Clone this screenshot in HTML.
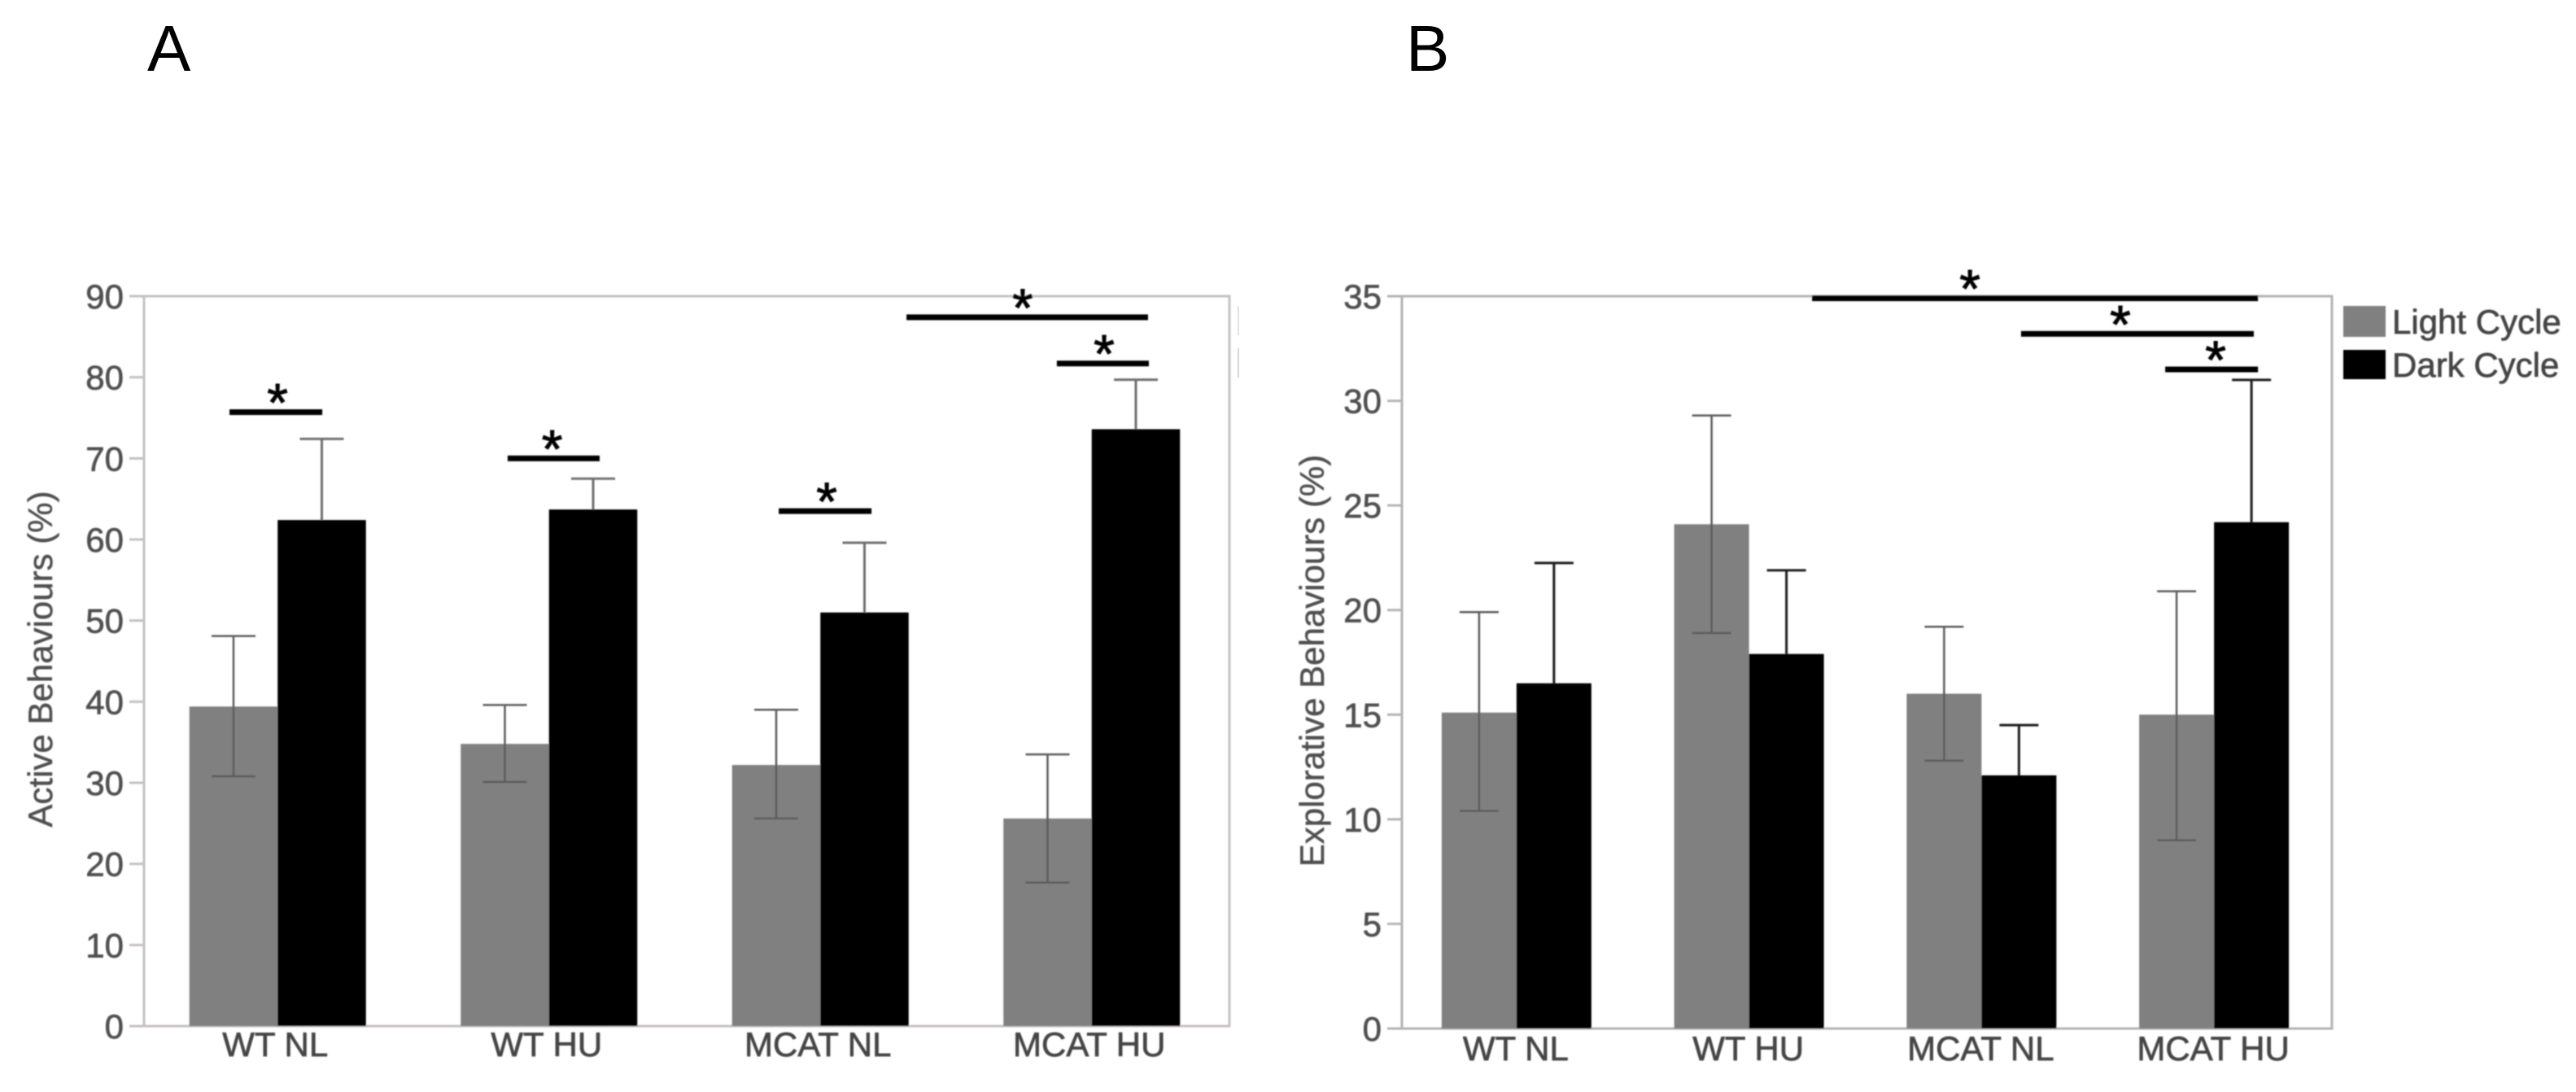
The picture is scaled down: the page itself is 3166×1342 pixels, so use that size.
<!DOCTYPE html>
<html lang="en">
<head>
<meta charset="utf-8">
<title>Active and Explorative Behaviours</title>
<style>
html,body{margin:0;padding:0;background:#fff;}
svg{display:block;font-family:"Liberation Sans",Arial,sans-serif;}
</style>
</head>
<body>
<svg id="figure" width="3166" height="1342" viewBox="0 0 3166 1342" xmlns="http://www.w3.org/2000/svg">
  <defs>
    <filter id="soft" x="-2%" y="-2%" width="104%" height="104%"><feGaussianBlur stdDeviation="0.9"/></filter>
  </defs>
  <rect width="3166" height="1342" fill="#ffffff"/>
  <text x="181" y="87" font-size="80" fill="#000">A</text>
  <text x="1728" y="87" font-size="80" fill="#000">B</text>
  <rect x="1521" y="376" width="2" height="36" fill="#e2e2e2"/>
  <rect x="1521" y="428" width="2" height="36" fill="#d8d8d8"/>
  <g id="panel-a" filter="url(#soft)"></g>
  <g id="panel-b" filter="url(#soft)"></g>
  <g filter="url(#soft)">
    <rect x="2880" y="376" width="52" height="38" fill="#808080"/>
    <text x="2940" y="410" font-size="42" fill="#444" stroke="#444" stroke-width="0.7">Light Cycle</text>
    <rect x="2880" y="430" width="52" height="36" fill="#000000"/>
    <text x="2940" y="463" font-size="42" fill="#444" stroke="#444" stroke-width="0.7">Dark Cycle</text>
  </g>
</svg>
<script>
const categories = ['WT NL', 'WT HU', 'MCAT NL', 'MCAT HU'];

// Panel A: Active Behaviours (%)
const aTicks = [0, 10, 20, 30, 40, 50, 60, 70, 80, 90];
const aLight = [39.4, 34.8, 32.2, 25.6];
const aLightHigh = [48.1, 39.6, 39.0, 33.5];
const aLightLow = [30.8, 30.1, 25.6, 17.7];
const aDark = [62.4, 63.7, 51.0, 73.6];
const aDarkHigh = [72.4, 67.5, 59.6, 79.7];
// Significance annotations: band coordinates (0 to 4) and axis values
const aSigStart = [0.315, 1.340, 2.339, 2.810, 3.364];
const aSigEnd = [0.657, 1.679, 2.681, 3.700, 3.703];
const aSigLevel = [75.7, 70.0, 63.5, 87.4, 81.7];
const aSigStar = [0.492, 1.504, 2.516, 3.238, 3.538];

// Panel B: Explorative Behaviours (%)
const bTicks = [0, 5, 10, 15, 20, 25, 30, 35];
const bLight = [15.1, 24.1, 16.0, 15.0];
const bLightHigh = [19.9, 29.3, 19.2, 20.9];
const bLightLow = [10.4, 18.9, 12.8, 9.0];
const bDark = [16.5, 17.9, 12.1, 24.2];
const bDarkHigh = [22.25, 21.9, 14.5, 31.0];
const bSigStart = [1.764, 2.663, 3.283];
const bSigEnd = [3.682, 3.664, 3.682];
const bSigLevel = [34.9, 33.2, 31.5];
const bSigStar = [2.443, 3.090, 3.500];

const SVGNS = 'http://www.w3.org/2000/svg';

function make(parent, tag, props, text) {
  const el = document.createElementNS(SVGNS, tag);
  for (const k in props) el.setAttribute(k, props[k]);
  if (text !== undefined) el.textContent = text;
  parent.appendChild(el);
  return el;
}

function drawPanel(cfg) {
  const g = document.getElementById(cfg.id);
  const yScale = v => cfg.bottom - (v / cfg.max) * (cfg.bottom - cfg.top);
  const band = (cfg.right - cfg.left) / categories.length;
  const bandX = b => cfg.left + b * band;
  const groupCenter = i => bandX(i + 0.5) + cfg.shift;

  // plot frame
  const frame = make(g, 'rect', {x: cfg.left, y: cfg.top, width: cfg.right - cfg.left, height: cfg.bottom - cfg.top, fill: 'none', stroke: cfg.frameColor, 'stroke-width': 3});
  
  

  // y axis
  cfg.ticks.forEach(t => {
    const y = yScale(t);
    const tick = make(g, 'line', {x1: cfg.left - 18, x2: cfg.left, y1: y, y2: y, stroke: cfg.frameColor, 'stroke-width': 3});
    
    
    const label = make(g, 'text', {x: cfg.left - 25, y: y + 15, 'text-anchor': 'end', 'font-size': 42, fill: '#505050', stroke: '#505050', 'stroke-width': 0.7}, String(t));
    
    
  });

  const midY = cfg.titleY;
  const title = make(g, 'text', {x: cfg.titleX, y: midY, 'text-anchor': 'middle', 'font-size': 42, fill: '#505050', stroke: '#505050', 'stroke-width': 0.5, transform: 'rotate(-90 ' + cfg.titleX + ' ' + midY + ')'}, cfg.title);
  
  

  // bars and error bars
  categories.forEach((cat, i) => {
    const c = groupCenter(i);
    const w = cfg.barWidth;

    const light = make(g, 'rect', {x: c - w, y: yScale(cfg.light[i]), width: w, height: yScale(0) - yScale(cfg.light[i]), fill: '#808080'});
    
    

    const dark = make(g, 'rect', {x: c, y: yScale(cfg.dark[i]), width: w, height: yScale(0) - yScale(cfg.dark[i]), fill: '#000000'});
    
    

    const lx = c - w / 2;
    const lightErr = make(g, 'path', {
      d: 'M' + lx + ' ' + yScale(cfg.lightHigh[i]) + 'V' + yScale(cfg.lightLow[i]) +
         'M' + (lx - cfg.cap) + ' ' + yScale(cfg.lightHigh[i]) + 'H' + (lx + cfg.cap) +
         'M' + (lx - cfg.cap) + ' ' + yScale(cfg.lightLow[i]) + 'H' + (lx + cfg.cap),
      fill: 'none', stroke: '#5c5c5c', 'stroke-width': 2.5});
    
    

    const dx = c + w / 2;
    const darkErr = make(g, 'path', {
      d: 'M' + dx + ' ' + yScale(cfg.darkHigh[i]) + 'V' + yScale(cfg.dark[i]) +
         'M' + (dx - cfg.cap) + ' ' + yScale(cfg.darkHigh[i]) + 'H' + (dx + cfg.cap),
      fill: 'none', stroke: cfg.darkErrColor, 'stroke-width': 3});
    
    

    const label = make(g, 'text', {x: c + cfg.labelShift, y: cfg.bottom + cfg.labelOffset, 'text-anchor': 'middle', 'font-size': 42, fill: '#444', stroke: '#444', 'stroke-width': 0.7}, cat);
    
    
  });

  // significance bars
  cfg.sigLevel.forEach((lvl, i) => {
    const y = yScale(lvl);
    const bar = make(g, 'rect', {x: bandX(cfg.sigStart[i]), y: y - 3.5, width: bandX(cfg.sigEnd[i]) - bandX(cfg.sigStart[i]), height: 7, fill: '#000'});
    
    
    const star = make(g, 'text', {x: bandX(cfg.sigStar[i]), y: y + 11, 'text-anchor': 'middle', 'font-size': 66, fill: '#000', stroke: '#000', 'stroke-width': 1}, '*');
    
    
  });
}

drawPanel({
  id: 'panel-a', left: 177, right: 1511, top: 364, bottom: 1261, max: 90,
  ticks: aTicks, light: aLight, lightHigh: aLightHigh, lightLow: aLightLow, dark: aDark, darkHigh: aDarkHigh,
  sigStart: aSigStart, sigEnd: aSigEnd, sigLevel: aSigLevel, sigStar: aSigStar,
  barWidth: 108.5, cap: 27, shift: -2.5, frameColor: '#c4c0c4', darkErrColor: '#707070',
  title: 'Active Behaviours (%)', titleX: 64, titleY: 810, labelOffset: 37, labelShift: -3
});

drawPanel({
  id: 'panel-b', left: 1723, right: 2866, top: 364, bottom: 1264, max: 35,
  ticks: bTicks, light: bLight, lightHigh: bLightHigh, lightLow: bLightLow, dark: bDark, darkHigh: bDarkHigh,
  sigStart: bSigStart, sigEnd: bSigEnd, sigLevel: bSigLevel, sigStar: bSigStar,
  barWidth: 92, cap: 24, shift: -2, frameColor: '#b4b4b4', darkErrColor: '#1a1a1a',
  title: 'Explorative Behaviours (%)', titleX: 1627, titleY: 812, labelOffset: 39, labelShift: -1
});
</script>
</body>
</html>
